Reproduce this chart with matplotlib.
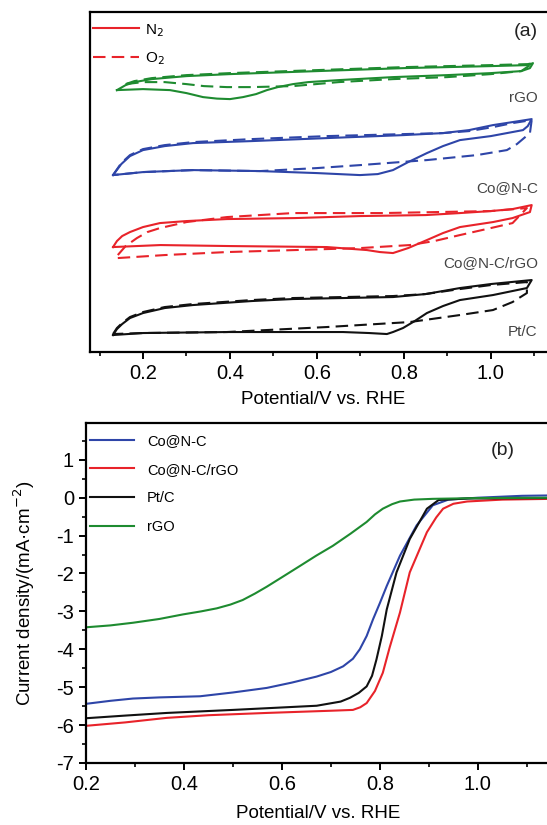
import matplotlib
matplotlib.use('Agg')
import matplotlib.pyplot as plt
from matplotlib.ticker import MultipleLocator, NullLocator, FormatStrFormatter

plt.rcParams['font.family'] = ['Liberation Sans', 'DejaVu Sans']
plt.rcParams['axes.unicode_minus'] = False

RED = '#e8232a'
BLUE = '#2e45a8'
GREEN = '#1e8b30'
BLACK = '#111111'

# ---- (a) CV curves, current in arbitrary offset units ----
# each loop: anodic branch (low -> high V), then cathodic branch (high -> low V)
rgo_n2_v = [0.14, 0.16, 0.18, 0.22, 0.30, 0.40, 0.60, 0.80, 1.00, 1.085, 1.097,
            1.09, 1.07, 1.00, 0.90, 0.775, 0.65, 0.58, 0.545, 0.51, 0.485, 0.46, 0.43, 0.40, 0.37, 0.338,
            0.30, 0.262, 0.20, 0.14]
rgo_n2_i = [262, 267, 270, 273, 276, 278, 281, 284, 286, 287, 289,
            284, 281, 279, 277, 275, 272, 270, 268, 265, 262, 258, 255, 253, 253.5, 255,
            259, 262, 263, 262]
rgo_o2_v = [0.16, 0.18, 0.22, 0.30, 0.40, 0.60, 0.80, 1.00, 1.085, 1.097,
            1.07, 1.00, 0.90, 0.775, 0.65, 0.545, 0.45, 0.393, 0.34, 0.30, 0.25, 0.20, 0.16]
rgo_o2_i = [268, 271, 274, 277, 279, 282, 285, 287, 288, 289,
            281, 278, 275, 273, 270, 266, 265, 265, 266, 268, 270, 270, 268]

con_n2_v = [0.131, 0.15, 0.17, 0.2, 0.25, 0.315, 0.45, 0.623, 0.8, 0.89, 0.95, 1.005, 1.05, 1.094,
            1.085, 1.074, 1.0, 0.929, 0.89, 0.853, 0.81, 0.775, 0.74, 0.699, 0.6, 0.469, 0.315, 0.2,
            0.131]
con_n2_i = [177, 188, 196, 202, 206, 209, 211, 214, 217, 219, 222, 227, 230, 233,
            226, 222, 216, 212, 206, 199, 190, 182, 178, 177, 179, 181, 182, 180,
            177]
con_o2_v = [0.131, 0.15, 0.17, 0.2, 0.25, 0.315, 0.45, 0.623, 0.8, 0.89, 0.95, 1.005, 1.05, 1.094,
            1.09, 1.06, 1.037, 0.968, 0.853, 0.7, 0.6, 0.469, 0.315, 0.2, 0.131]
con_o2_i = [177, 189, 197, 203, 207, 210, 213, 216, 218, 219, 221, 225, 229, 232,
            219, 208, 202, 197, 192, 187, 184, 181, 182, 180, 177]

cong_n2_v = [0.131, 0.14, 0.152, 0.17, 0.2, 0.239, 0.30, 0.393, 0.55, 0.699, 0.85, 0.929, 1.0, 1.05,
             1.094, 1.09, 1.05, 1.005, 0.929, 0.89, 0.853, 0.81, 0.775, 0.745, 0.715, 0.623, 0.4, 0.24,
             0.131]
cong_n2_i = [105, 111, 116, 120, 125, 129, 131, 133, 134, 136, 137, 139, 141, 143,
             147, 140, 134, 130, 125, 119, 112, 104, 99, 100, 102, 105, 106, 107,
             105]
cong_o2_v = [0.142, 0.16, 0.186, 0.21, 0.239, 0.3, 0.393, 0.545, 0.75, 1.0, 1.083,
             1.05, 0.99, 0.929, 0.87, 0.814, 0.7, 0.55, 0.393, 0.25, 0.142]
cong_o2_i = [97, 106, 114, 120, 124, 130, 135, 139, 139, 141, 144,
             129, 123, 117, 111, 107, 104, 102, 100, 97, 94]

ptc_n2_v = [0.131, 0.14, 0.152, 0.17, 0.2, 0.25, 0.315, 0.45, 0.545, 0.775, 0.85, 0.929, 1.0, 1.094,
            1.083, 1.005, 0.929, 0.89, 0.853, 0.825, 0.798, 0.775, 0.761, 0.72, 0.66, 0.393, 0.2,
            0.131]
ptc_n2_i = [17, 23, 28, 34, 39, 44, 47, 51, 53, 55, 58, 64, 68, 72,
            64, 57, 52, 46, 39, 31, 24, 20, 18, 19, 20, 20, 19,
            17]
ptc_o2_v = [0.131, 0.14, 0.152, 0.17, 0.2, 0.25, 0.315, 0.45, 0.545, 0.775, 0.85, 0.929, 1.0, 1.083,
            1.083, 1.05, 1.005, 0.929, 0.814, 0.623, 0.393, 0.2, 0.131]
ptc_o2_i = [18, 24, 29, 35, 40, 45, 48, 52, 54, 56, 58, 63, 67, 70,
            59, 50, 42, 37, 30, 25, 20, 19, 18]

cv_sets = [
    ('rGO', GREEN, rgo_n2_v, rgo_n2_i, rgo_o2_v, rgo_o2_i),
    ('Co@N-C', BLUE, con_n2_v, con_n2_i, con_o2_v, con_o2_i),
    ('Co@N-C/rGO', RED, cong_n2_v, cong_n2_i, cong_o2_v, cong_o2_i),
    ('Pt/C', BLACK, ptc_n2_v, ptc_n2_i, ptc_o2_v, ptc_o2_i),
]
cv_label_pos = [(1.108, 254), (1.108, 164), (1.108, 89), (1.108, 20)]

# ---- (b) LSV curves ----
lsv_con_v = [0.2, 0.25, 0.296, 0.35, 0.433, 0.5, 0.569, 0.62, 0.671, 0.70, 0.725, 0.745, 0.759, 0.773,
             0.786, 0.80, 0.814, 0.841, 0.875, 0.908, 0.94, 1.0, 1.09, 1.15]
lsv_con_j = [-5.44, -5.36, -5.30, -5.27, -5.24, -5.14, -5.02, -4.88, -4.72, -4.60, -4.45, -4.25, -4.0, -3.65,
             -3.21, -2.78, -2.33, -1.53, -0.73, -0.2, -0.05, 0.0, 0.05, 0.06]
lsv_cong_v = [0.2, 0.28, 0.365, 0.45, 0.569, 0.704, 0.745, 0.76, 0.773, 0.79, 0.806, 0.82, 0.841, 0.861,
              0.896, 0.915, 0.929, 0.95, 0.978, 1.05, 1.15]
lsv_cong_j = [-6.02, -5.93, -5.81, -5.74, -5.68, -5.62, -5.60, -5.53, -5.42, -5.10, -4.62, -3.95, -3.03, -1.97,
              -0.91, -0.52, -0.29, -0.16, -0.10, -0.05, -0.03]
lsv_pt_v = [0.2, 0.28, 0.365, 0.5, 0.671, 0.72, 0.739, 0.757, 0.773, 0.784, 0.793, 0.804, 0.814, 0.834,
            0.861, 0.896, 0.92, 0.98, 1.15]
lsv_pt_j = [-5.82, -5.75, -5.68, -5.60, -5.49, -5.38, -5.28, -5.15, -4.98, -4.70, -4.27, -3.65, -2.95, -1.97,
            -1.09, -0.29, -0.06, -0.02, -0.01]
lsv_rgo_v = [0.2, 0.25, 0.296, 0.35, 0.398, 0.435, 0.467, 0.495, 0.52, 0.545, 0.569, 0.60, 0.637, 0.67,
             0.704, 0.74, 0.773, 0.79, 0.806, 0.825, 0.841, 0.87, 0.908, 1.0, 1.15]
lsv_rgo_j = [-3.42, -3.37, -3.30, -3.20, -3.08, -3.00, -2.92, -2.82, -2.70, -2.53, -2.35, -2.10, -1.80, -1.53,
             -1.27, -0.95, -0.64, -0.44, -0.29, -0.17, -0.10, -0.05, -0.03, -0.01, 0.0]

lsv_sets = [
    ('Co@N-C', BLUE, lsv_con_v, lsv_con_j),
    ('Co@N-C/rGO', RED, lsv_cong_v, lsv_cong_j),
    ('Pt/C', BLACK, lsv_pt_v, lsv_pt_j),
    ('rGO', GREEN, lsv_rgo_v, lsv_rgo_j),
]

fig = plt.figure(figsize=(5.47, 8.25), dpi=100)

# panel (a)
ax1 = fig.add_axes([0.1645, 0.5733, 0.852, 0.412])
for name, col, nv, ni, ov, oi in cv_sets:
    ax1.plot(nv, ni, color=col, lw=1.5)
    ax1.plot(ov, oi, color=col, lw=1.5, ls=(0, (6, 3)))
for (name, *_), (tx, ty) in zip(cv_sets, cv_label_pos):
    ax1.text(tx, ty, name, ha='right', va='center', fontsize=11, color='#444444')
h1, = ax1.plot([], [], color=RED, lw=1.5, label='N$_2$')
h2, = ax1.plot([], [], color=RED, lw=1.5, ls=(0, (6, 3)), label='O$_2$')
ax1.legend(handles=[h1, h2], loc='upper left', bbox_to_anchor=(-0.003, 0.985), frameon=False,
           fontsize=11, handlelength=3.0, handletextpad=0.4, borderaxespad=0.1,
           labelspacing=0.8, borderpad=0.2)
ax1.text(1.108, 321, '(a)', ha='right', va='center', fontsize=14, color='#222222')
ax1.set_xlim(0.078, 1.15)
ax1.set_ylim(0, 340)
ax1.yaxis.set_major_locator(NullLocator())
ax1.xaxis.set_major_locator(MultipleLocator(0.2))
ax1.xaxis.set_minor_locator(MultipleLocator(0.1))
ax1.xaxis.set_major_formatter(FormatStrFormatter('%.1f'))
ax1.set_xlabel('Potential/V vs. RHE', fontsize=13.5, labelpad=6)

# panel (b)
ax2 = fig.add_axes([0.157, 0.0752, 0.851, 0.412])
for name, col, v, j in lsv_sets:
    ax2.plot(v, j, color=col, lw=1.5, label=name)
ax2.legend(loc='upper left', bbox_to_anchor=(-0.003, 0.985), frameon=False, fontsize=10.5,
           handlelength=3.0, handletextpad=0.9, borderaxespad=0.1, labelspacing=1.0,
           borderpad=0.3)
ax2.text(1.075, 1.25, '(b)', ha='right', va='center', fontsize=14, color='#222222')
ax2.set_xlim(0.2, 1.15)
ax2.set_ylim(-7, 1.97)
ax2.xaxis.set_major_locator(MultipleLocator(0.2))
ax2.xaxis.set_minor_locator(MultipleLocator(0.1))
ax2.xaxis.set_major_formatter(FormatStrFormatter('%.1f'))
ax2.yaxis.set_major_locator(MultipleLocator(1))
ax2.yaxis.set_minor_locator(MultipleLocator(0.5))
ax2.set_xlabel('Potential/V vs. RHE', fontsize=13.5, labelpad=8)
ax2.set_ylabel('Current density/(mA·cm$^{-2}$)', fontsize=13.5, labelpad=14)

for ax in (ax1, ax2):
    for s in ax.spines.values():
        s.set_linewidth(1.6)
    ax.tick_params(which='major', length=5, width=1.4, labelsize=14.5, direction='out')
    ax.tick_params(which='minor', length=3, width=1.2, direction='out')

fig.savefig('out.png', dpi=100)
